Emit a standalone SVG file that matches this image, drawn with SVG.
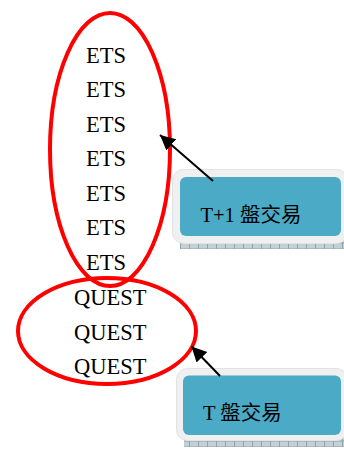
<svg xmlns="http://www.w3.org/2000/svg" width="344" height="450" viewBox="0 0 344 450">
<style>
.lbl{font-family:"Liberation Serif","Noto Sans CJK TC",serif;font-size:22.5px;fill:#000}
.btxt{font-family:"Liberation Serif","Noto Sans CJK TC",serif;font-size:20.5px;fill:#000}
.ring{fill:none;stroke:#ff0000;stroke-width:4}
.outer{fill:#f0f0f0;stroke:#e2e2e2;stroke-width:1}
.inner{fill:#4baac6}
.base{fill:url(#hatch)}
.conn{stroke:#000;stroke-width:2;fill:none;marker-end:url(#arr)}
</style>
<defs>
<pattern id="hatch" width="9" height="6" patternUnits="userSpaceOnUse">
<rect width="9" height="6" fill="#c3d0d6"/>
<path d="M0.5,0V6M0,3H9" stroke="#8fa3ad" stroke-width="1"/>
</pattern>
<marker id="arr" markerUnits="userSpaceOnUse" markerWidth="16" markerHeight="16" refX="15" refY="7.5" orient="auto">
<path d="M0,0L15,7.5L0,15z" fill="#000"/>
</marker>
</defs>
<rect width="344" height="450" fill="#fff"/>
<g id="ets">
<ellipse class="ring" cx="110" cy="149.5" rx="60" ry="136.5"/>
<text class="lbl" x="86" y="62.7">ETS</text>
<text class="lbl" x="86" y="97.2">ETS</text>
<text class="lbl" x="86" y="131.7">ETS</text>
<text class="lbl" x="86" y="166.2">ETS</text>
<text class="lbl" x="86" y="200.7">ETS</text>
<text class="lbl" x="86" y="235.2">ETS</text>
<text class="lbl" x="86" y="269.7">ETS</text>
</g>
<g id="quest">
<ellipse class="ring" cx="107" cy="331" rx="89" ry="53"/>
<text class="lbl" x="74" y="305">QUEST</text>
<text class="lbl" x="74" y="339.5">QUEST</text>
<text class="lbl" x="74" y="374">QUEST</text>
</g>
<g id="t1box">
<rect class="base" x="180" y="240" width="164" height="9"/>
<rect class="outer" x="172.5" y="169.5" width="175" height="74" rx="11"/>
<rect class="inner" x="180" y="177" width="161" height="59" rx="6"/>
<text class="btxt" x="200.5" y="222">T+1 盤交易</text>
</g>
<g id="tbox">
<rect class="base" x="184" y="437" width="160" height="10"/>
<rect class="outer" x="176.5" y="368.5" width="171" height="72" rx="11"/>
<rect class="inner" x="183" y="375.5" width="158" height="59.5" rx="6"/>
<text class="btxt" x="203" y="420">T 盤交易</text>
</g>
<g id="connectors">
<line class="conn" x1="213" y1="181" x2="160" y2="135"/>
<line class="conn" x1="220" y1="376" x2="191.5" y2="346.5"/>
</g>
</svg>
